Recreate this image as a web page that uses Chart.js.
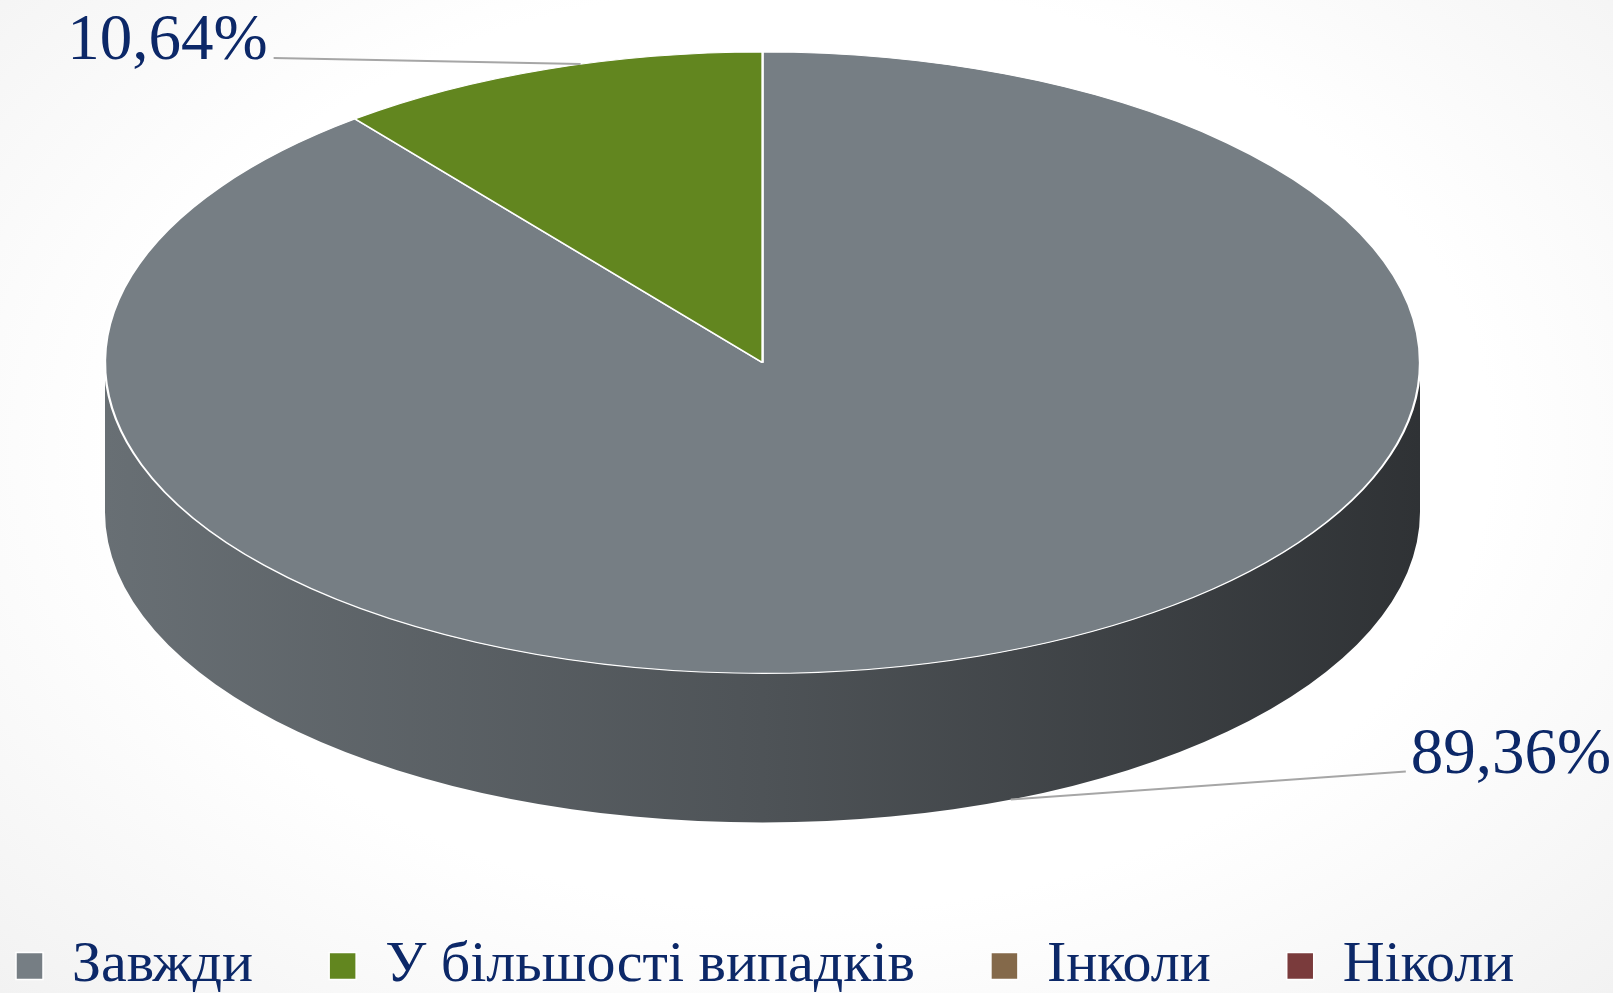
<!DOCTYPE html>
<html>
<head>
<meta charset="utf-8">
<script src="https://cdn.jsdelivr.net/npm/chart.js@4"></script>
<style>
html, body { margin: 0; padding: 0; width: 1613px; height: 993px; overflow: hidden;
  background: radial-gradient(ellipse at 50% 45%, #ffffff 60%, #f2f2f2 100%); }
#wrap { position: relative; width: 1613px; height: 993px; }
</style>
</head>
<body>
<div id="wrap"><canvas id="answers"></canvas></div>
<script>
var answerLabels = ["Завжди", "У більшості випадків", "Інколи", "Ніколи"];
var answerShares = [89.36, 10.64, 0, 0];
var answerColors = ["#767e84", "#62861f", "#84694a", "#7a3b3c"];

var serif = "'Liberation Serif', 'Times New Roman', serif";
var navy = "#0c2868";

function shade(hex, f) {
  var n = parseInt(hex.slice(1), 16);
  var r = Math.round(((n >> 16) & 255) * f);
  var g = Math.round(((n >> 8) & 255) * f);
  var b = Math.round((n & 255) * f);
  return "rgb(" + r + "," + g + "," + b + ")";
}

function ellipseOf(opts) {
  var rx = (opts.right - opts.left) / 2;
  var ry = rx * opts.tilt;
  return { cx: opts.left + rx, cy: opts.top + ry, rx: rx, ry: ry, depth: rx * opts.depth };
}

// squashes the flat pie into a tilted disc and draws the front wall
var pie3d = {
  id: "pie3d",
  beforeDatasetsDraw: function(chart, args, opts) {
    var ctx = chart.ctx;
    var e = ellipseOf(opts);
    var arcs = chart.getDatasetMeta(0).data;

    arcs.forEach(function(arc, i) {
      if (!answerShares[i]) return;
      for (var k = -1; k <= 1; k++) {
        var a = Math.max(arc.startAngle, 2 * Math.PI * k);
        var b = Math.min(arc.endAngle, 2 * Math.PI * k + Math.PI);
        if (b <= a) continue;
        var grad = ctx.createLinearGradient(e.cx - e.rx, 0, e.cx + e.rx, 0);
        grad.addColorStop(0, shade(answerColors[i], 0.88));
        grad.addColorStop(0.5, shade(answerColors[i], 0.66));
        grad.addColorStop(1, shade(answerColors[i], 0.40));
        ctx.beginPath();
        ctx.ellipse(e.cx, e.cy, e.rx, e.ry, 0, a, b);
        ctx.ellipse(e.cx, e.cy + e.depth, e.rx, e.ry, 0, b, a, true);
        ctx.closePath();
        ctx.fillStyle = grad;
        ctx.fill();
      }
    });

    var first = arcs[0];
    ctx.save();
    ctx.translate(e.cx, e.cy);
    ctx.scale(e.rx / first.outerRadius, e.ry / first.outerRadius);
    ctx.translate(-first.x, -first.y);
  },
  afterDatasetsDraw: function(chart, args, opts) {
    var ctx = chart.ctx;
    ctx.restore();
    var e = ellipseOf(opts);
    var arcs = chart.getDatasetMeta(0).data;
    ctx.save();
    arcs.forEach(function(arc, i) {
      if (!answerShares[i]) return;
      var mid = (arc.startAngle + arc.endAngle) / 2 + opts.anchorShift[i];
      var s = Math.sin(mid);
      var ax = e.cx + e.rx * Math.cos(mid);
      var ay = e.cy + e.ry * s + (s > 0 ? e.depth : 0);
      var off = opts.leaders[i];
      var ex = ax + off[0], ey = ay + off[1];
      ctx.beginPath();
      ctx.moveTo(ax, ay);
      ctx.lineTo(ex, ey);
      ctx.strokeStyle = "#a6a6a6";
      ctx.lineWidth = 2;
      ctx.stroke();
      ctx.font = "65px " + serif;
      ctx.fillStyle = navy;
      ctx.textBaseline = "alphabetic";
      ctx.textAlign = off[0] < 0 ? "right" : "left";
      var txt = answerShares[i].toFixed(2).replace(".", ",") + "%";
      ctx.fillText(txt, ex + (off[0] < 0 ? -6 : 5), ey + 1);
    });
    ctx.restore();
  }
};

new Chart("answers", {
  type: "pie",
  data: {
    labels: answerLabels,
    datasets: [{
      data: answerShares,
      backgroundColor: answerColors,
      borderColor: "#ffffff",
      borderWidth: 1.5,
      clip: false
    }]
  },
  options: {
    responsive: true,
    maintainAspectRatio: false,
    animation: false,
    events: [],
    layout: { padding: { left: -60, right: -250, top: 0, bottom: -12 } },
    plugins: {
      tooltip: { enabled: false },
      legend: {
        position: "bottom",
        align: "start",
        labels: {
          boxWidth: 27,
          boxHeight: 27,
          padding: 76,
          color: navy,
          font: { family: serif, size: 58 }
        }
      },
      pie3d: {
        left: 105, right: 1420, top: 52,
        tilt: 0.4725, depth: 0.227,
        anchorShift: [-0.053, 0.054],
        leaders: [[395, -28], [-307, -6]]
      }
    }
  },
  plugins: [pie3d]
});
</script>
</body>
</html>
